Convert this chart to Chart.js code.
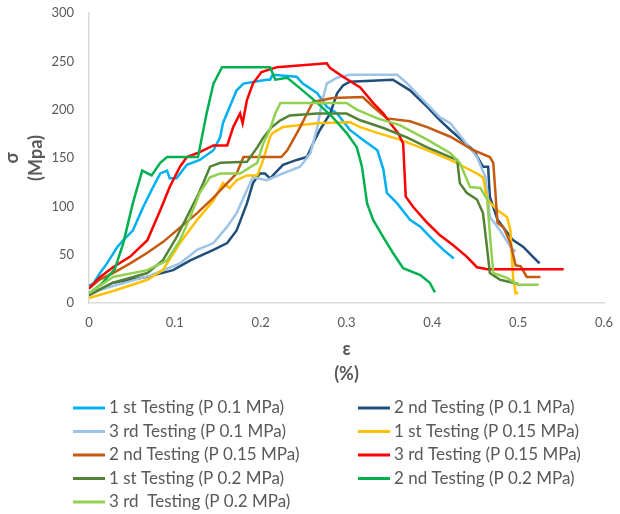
<!DOCTYPE html>
<html>
<head>
<meta charset="utf-8">
<script src="https://cdn.jsdelivr.net/npm/chart.js@4.4.1/dist/chart.umd.min.js"></script>
<style>
  body { margin: 0; background: #fff; }
  canvas { display: block; }
</style>
</head>
<body>
<canvas id="graf" width="620" height="514"></canvas>
<script>
// series labels (legend order)
const seriesLabels = [
    '1 st Testing (P 0.1 MPa)', '2 nd Testing (P 0.1 MPa)',
    '3 rd Testing (P 0.1 MPa)', '1 st Testing (P 0.15 MPa)',
    '2 nd Testing (P 0.15 MPa)', '3 rd Testing (P 0.15 MPa)',
    '1 st Testing (P 0.2 MPa)', '2 nd Testing (P 0.2 MPa)',
    '3 rd  Testing (P 0.2 MPa)'
]

// strain (%) / stress (MPa)
const strain1 = [0, 0.005, 0.012, 0.021, 0.033, 0.040, 0.051, 0.063, 0.073, 0.083, 0.091, 0.094, 0.102, 0.114, 0.129, 0.145, 0.153, 0.156, 0.164, 0.172, 0.180, 0.207, 0.211, 0.214, 0.242, 0.249, 0.266, 0.277, 0.289, 0.304, 0.319, 0.336, 0.343, 0.347, 0.359, 0.374, 0.386, 0.401, 0.413, 0.425]
const stress1 = [18, 20, 30, 41, 58, 65, 75, 99, 117, 134, 137, 129, 129, 143, 148, 158, 172, 186, 203, 220, 227, 231, 231, 236, 234, 227, 217, 203, 196, 179, 169, 158, 138, 114, 103, 86, 79, 65, 55, 46]

const strain2 = [0, 0.028, 0.068, 0.098, 0.118, 0.145, 0.161, 0.172, 0.184, 0.191, 0.199, 0.205, 0.211, 0.226, 0.242, 0.254, 0.261, 0.269, 0.281, 0.289, 0.296, 0.304, 0.354, 0.374, 0.394, 0.409, 0.421, 0.448, 0.459, 0.465, 0.467, 0.476, 0.494, 0.506, 0.517, 0.525]
const stress2 = [8, 21, 27, 34, 44, 55, 62, 75, 103, 124, 134, 134, 129, 143, 148, 151, 165, 179, 196, 217, 225, 229, 231, 220, 203, 189, 179, 158, 141, 141, 110, 86, 65, 58, 48, 41]

const strain3 = [0, 0.030, 0.070, 0.106, 0.126, 0.145, 0.161, 0.172, 0.184, 0.191, 0.207, 0.226, 0.246, 0.258, 0.266, 0.272, 0.277, 0.289, 0.304, 0.359, 0.371, 0.389, 0.409, 0.421, 0.452, 0.462, 0.467, 0.479, 0.491, 0.497]
const stress3 = [10, 18, 28, 41, 55, 62, 79, 93, 117, 130, 127, 134, 141, 155, 182, 210, 227, 233, 236, 236, 227, 210, 192, 186, 151, 130, 89, 75, 58, 53]

const strain4 = [0, 0.030, 0.068, 0.086, 0.106, 0.126, 0.145, 0.156, 0.164, 0.172, 0.184, 0.196, 0.203, 0.211, 0.214, 0.226, 0.266, 0.304, 0.316, 0.336, 0.362, 0.389, 0.421, 0.452, 0.459, 0.464, 0.476, 0.487, 0.491, 0.494, 0.497, 0.500]
const stress4 = [5, 13, 24, 34, 62, 86, 106, 124, 119, 127, 132, 132, 148, 172, 176, 182, 186, 187, 182, 176, 169, 160, 148, 134, 130, 107, 96, 89, 75, 27, 10, 11]

const strain5 = [0, 0.012, 0.028, 0.048, 0.068, 0.086, 0.106, 0.126, 0.145, 0.161, 0.172, 0.180, 0.224, 0.231, 0.238, 0.246, 0.254, 0.261, 0.284, 0.319, 0.331, 0.347, 0.374, 0.394, 0.421, 0.448, 0.467, 0.471, 0.476, 0.483, 0.491, 0.497, 0.503, 0.510, 0.526]
const stress5 = [15, 24, 31, 41, 52, 63, 78, 93, 109, 124, 134, 151, 151, 158, 169, 182, 196, 208, 212, 213, 203, 191, 188, 182, 172, 158, 151, 145, 83, 78, 62, 39, 38, 27, 27]

const strain6 = [0, 0.013, 0.028, 0.048, 0.068, 0.083, 0.094, 0.106, 0.114, 0.129, 0.145, 0.161, 0.168, 0.176, 0.179, 0.184, 0.191, 0.201, 0.219, 0.277, 0.281, 0.296, 0.316, 0.331, 0.343, 0.351, 0.360, 0.366, 0.369, 0.378, 0.394, 0.409, 0.424, 0.440, 0.452, 0.464, 0.553]
const stress6 = [15, 27, 37, 48, 65, 96, 120, 141, 151, 156, 163, 163, 182, 196, 186, 210, 227, 239, 244, 248, 243, 234, 223, 207, 196, 186, 176, 165, 110, 99, 83, 70, 60, 48, 37, 35, 35]

const strain7 = [0, 0.028, 0.068, 0.086, 0.102, 0.114, 0.126, 0.133, 0.141, 0.153, 0.184, 0.196, 0.203, 0.213, 0.223, 0.234, 0.266, 0.300, 0.316, 0.343, 0.371, 0.394, 0.421, 0.429, 0.432, 0.440, 0.452, 0.459, 0.464, 0.467, 0.479, 0.494, 0.500]
const stress7 = [8, 21, 31, 44, 68, 89, 110, 124, 141, 145, 146, 161, 171, 182, 189, 194, 196, 196, 189, 181, 171, 161, 151, 148, 124, 114, 107, 93, 55, 31, 24, 21, 20]

const strain8 = [0, 0.015, 0.030, 0.040, 0.051, 0.062, 0.073, 0.083, 0.091, 0.127, 0.137, 0.145, 0.155, 0.211, 0.217, 0.231, 0.246, 0.266, 0.284, 0.300, 0.312, 0.318, 0.324, 0.331, 0.343, 0.354, 0.366, 0.386, 0.397, 0.403]
const stress8 = [10, 20, 35, 62, 103, 137, 132, 145, 151, 151, 196, 227, 244, 244, 231, 233, 222, 207, 192, 176, 161, 141, 103, 86, 68, 52, 36, 29, 21, 11]

const strain9 = [0, 0.028, 0.068, 0.091, 0.106, 0.118, 0.129, 0.141, 0.153, 0.176, 0.196, 0.203, 0.211, 0.217, 0.223, 0.300, 0.312, 0.336, 0.362, 0.394, 0.421, 0.432, 0.444, 0.456, 0.464, 0.467, 0.471, 0.487, 0.499, 0.524]
const stress9 = [10, 27, 34, 44, 65, 89, 114, 130, 134, 134, 145, 165, 180, 196, 207, 207, 200, 191, 184, 169, 155, 145, 120, 119, 107, 72, 31, 26, 19, 19]

const strains = [strain1, strain2, strain3, strain4, strain5, strain6, strain7, strain8, strain9]
const stresses = [stress1, stress2, stress3, stress4, stress5, stress6, stress7, stress8, stress9]

const colors = ['#00B0F0', '#1F4E79', '#9DC3E6', '#FFC000', '#C55A11', '#FF0000', '#548235', '#00B050', '#92D050']

const grey = '#595959'
Chart.defaults.font.family = 'Lato, Carlito, sans-serif'
Chart.defaults.color = grey

const datasets = seriesLabels.map((label, i) => ({
    label: label,
    data: strains[i].map((x, k) => ({ x: x, y: stresses[i][k] })),
    showLine: true,
    borderColor: colors[i],
    backgroundColor: colors[i],
    borderWidth: 2.5,
    pointRadius: 0,
    tension: 0,
    order: seriesLabels.length - i   // later series on top, like Excel
}))

// legend in two columns under the axis title
const legendPlugin = {
    id: 'twoColLegend',
    afterDraw(chart) {
        const c = chart.ctx
        c.save()
        c.font = '17px Lato, Carlito, sans-serif'
        c.fillStyle = grey
        c.textBaseline = 'middle'
        chart.data.datasets.forEach((ds, i) => {
            const x = i % 2 === 0 ? 73 : 358
            const y = 408 + Math.floor(i / 2) * 23.5
            c.strokeStyle = ds.borderColor
            c.lineWidth = 3
            c.beginPath()
            c.moveTo(x, y)
            c.lineTo(x + 32, y)
            c.stroke()
            c.fillText(ds.label, x + 36, y)
        })
        c.restore()
    }
}

const ctx = document.getElementById('graf').getContext('2d')

const grafico = new Chart(ctx, {
    type: 'scatter',
    data: { datasets: datasets },
    options: {
        responsive: false,
        animation: false,
        layout: { padding: { left: 0, right: 16, top: 13, bottom: 128 } },
        plugins: {
            legend: { display: false },
            tooltip: { enabled: false }
        },
        scales: {
            x: {
                type: 'linear',
                min: 0,
                max: 0.6,
                ticks: { stepSize: 0.1, padding: 12, font: { size: 13 } },
                grid: { display: false, drawTicks: false },
                border: { color: '#D9D9D9', width: 1.5 },
                title: {
                    display: true,
                    text: ['ε', '(%)'],
                    color: grey,
                    font: { size: 18, weight: 'bold', lineHeight: 1.35 },
                    padding: { top: 0, bottom: 0 }
                },
                afterFit: (s) => {
                    s.height = 83
                    s.paddingLeft = 0
                    s.paddingRight = 10
                }
            },
            y: {
                min: 0,
                max: 300,
                ticks: { stepSize: 50, padding: 15, font: { size: 13 } },
                grid: { display: false, drawTicks: false },
                border: { color: '#D9D9D9', width: 1.5 },
                title: {
                    display: true,
                    text: ['σ', '(Mpa)'],
                    color: grey,
                    font: { size: 18, weight: 'bold', lineHeight: 1.35 },
                    padding: { top: 0, bottom: 0 }
                },
                afterFit: (s) => {
                    s.width = 89
                    s.paddingTop = 8
                    s.paddingBottom = 0
                }
            }
        }
    },
    plugins: [legendPlugin]
})
</script>
</body>
</html>
